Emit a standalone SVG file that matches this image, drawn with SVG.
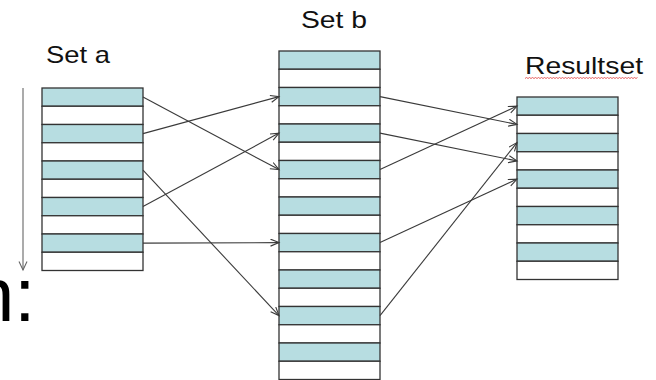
<svg xmlns="http://www.w3.org/2000/svg" width="656" height="380" viewBox="0 0 656 380">
<style>
.lbl{font-family:"Liberation Sans",Arial,sans-serif;font-size:24px;fill:#111}
.t{fill:#b7dde1;stroke:#333;stroke-width:1.3}
.w{fill:#fff;stroke:#333;stroke-width:1.3}
.c{stroke:#3a3a3a;stroke-width:1.1;fill:none;marker-end:url(#ah)}
</style>
<defs>
<marker id="ah" markerUnits="userSpaceOnUse" markerWidth="12" markerHeight="10" refX="9" refY="4" orient="auto">
<path d="M0.5,0.5 L9,4 L0.5,7.5" fill="none" stroke="#3a3a3a" stroke-width="1.1"/>
</marker>
<marker id="ahg" markerUnits="userSpaceOnUse" markerWidth="12" markerHeight="10" refX="9" refY="4.5" orient="auto">
<path d="M0.5,0.5 L9,4.5 L0.5,8.5" fill="none" stroke="#666" stroke-width="1.1"/>
</marker>
</defs>
<rect width="656" height="380" fill="#fff"/>

<g id="label-n">
<text x="-28" y="321" font-family="Liberation Sans,Arial,sans-serif" font-size="76" fill="#000">n:</text>
</g>

<g id="order-arrow">
<line x1="23" y1="88" x2="23" y2="270" stroke="#666" stroke-width="1.1" marker-end="url(#ahg)"/>
</g>

<g id="setA">
<text class="lbl" x="46" y="63" textLength="64" lengthAdjust="spacingAndGlyphs">Set a</text>
<rect class="t" x="42" y="88" width="101" height="18.25"/>
<rect class="w" x="42" y="106.25" width="101" height="18.25"/>
<rect class="t" x="42" y="124.5" width="101" height="18.25"/>
<rect class="w" x="42" y="142.75" width="101" height="18.25"/>
<rect class="t" x="42" y="161" width="101" height="18.25"/>
<rect class="w" x="42" y="179.25" width="101" height="18.25"/>
<rect class="t" x="42" y="197.5" width="101" height="18.25"/>
<rect class="w" x="42" y="215.75" width="101" height="18.25"/>
<rect class="t" x="42" y="234" width="101" height="18.25"/>
<rect class="w" x="42" y="252.25" width="101" height="18.25"/>
</g>

<g id="setB">
<text class="lbl" x="301" y="28" textLength="66" lengthAdjust="spacingAndGlyphs">Set b</text>
<rect class="t" x="279" y="51" width="101" height="18.25"/>
<rect class="w" x="279" y="69.25" width="101" height="18.25"/>
<rect class="t" x="279" y="87.5" width="101" height="18.25"/>
<rect class="w" x="279" y="105.75" width="101" height="18.25"/>
<rect class="t" x="279" y="124" width="101" height="18.25"/>
<rect class="w" x="279" y="142.25" width="101" height="18.25"/>
<rect class="t" x="279" y="160.5" width="101" height="18.25"/>
<rect class="w" x="279" y="178.75" width="101" height="18.25"/>
<rect class="t" x="279" y="197" width="101" height="18.25"/>
<rect class="w" x="279" y="215.25" width="101" height="18.25"/>
<rect class="t" x="279" y="233.5" width="101" height="18.25"/>
<rect class="w" x="279" y="251.75" width="101" height="18.25"/>
<rect class="t" x="279" y="270" width="101" height="18.25"/>
<rect class="w" x="279" y="288.25" width="101" height="18.25"/>
<rect class="t" x="279" y="306.5" width="101" height="18.25"/>
<rect class="w" x="279" y="324.75" width="101" height="18.25"/>
<rect class="t" x="279" y="343" width="101" height="18.25"/>
<rect class="w" x="279" y="361.25" width="101" height="18.25"/>
</g>

<g id="resultset">
<text class="lbl" x="525" y="74" textLength="118" lengthAdjust="spacingAndGlyphs">Resultset</text>
<path d="M525,78.5 l1.5,-1 l1.5,1 l1.5,-1 l1.5,1 l1.5,-1 l1.5,1 l1.5,-1 l1.5,1 l1.5,-1 l1.5,1 l1.5,-1 l1.5,1 l1.5,-1 l1.5,1 l1.5,-1 l1.5,1 l1.5,-1 l1.5,1 l1.5,-1 l1.5,1 l1.5,-1 l1.5,1 l1.5,-1 l1.5,1 l1.5,-1 l1.5,1 l1.5,-1 l1.5,1 l1.5,-1 l1.5,1 l1.5,-1 l1.5,1 l1.5,-1 l1.5,1 l1.5,-1 l1.5,1 l1.5,-1 l1.5,1 l1.5,-1 l1.5,1 l1.5,-1 l1.5,1 l1.5,-1 l1.5,1 l1.5,-1 l1.5,1 l1.5,-1 l1.5,1 l1.5,-1 l1.5,1 l1.5,-1 l1.5,1 l1.5,-1 l1.5,1 l1.5,-1 l1.5,1 l1.5,-1 l1.5,1 l1.5,-1 l1.5,1 l1.5,-1 l1.5,1 l1.5,-1 l1.5,1 l1.5,-1 l1.5,1 l1.5,-1 l1.5,1 l1.5,-1 l1.5,1 l1.5,-1 l1.5,1 l1.5,-1 l1.5,1 l1.5,-1" fill="none" stroke="#e03a3a" stroke-width="0.8"/>
<rect class="t" x="517" y="97" width="101" height="18.25"/>
<rect class="w" x="517" y="115.25" width="101" height="18.25"/>
<rect class="t" x="517" y="133.5" width="101" height="18.25"/>
<rect class="w" x="517" y="151.75" width="101" height="18.25"/>
<rect class="t" x="517" y="170" width="101" height="18.25"/>
<rect class="w" x="517" y="188.25" width="101" height="18.25"/>
<rect class="t" x="517" y="206.5" width="101" height="18.25"/>
<rect class="w" x="517" y="224.75" width="101" height="18.25"/>
<rect class="t" x="517" y="243" width="101" height="18.25"/>
<rect class="w" x="517" y="261.25" width="101" height="18.25"/>
</g>

<g id="connectors">
<line class="c" x1="143" y1="97" x2="279" y2="169.6"/>
<line class="c" x1="143" y1="133.6" x2="279" y2="96.6"/>
<line class="c" x1="143" y1="170.1" x2="279" y2="315.6"/>
<line class="c" x1="143" y1="206.6" x2="279" y2="133.1"/>
<line class="c" x1="143" y1="243.1" x2="279" y2="242.6"/>
<line class="c" x1="380" y1="96.6" x2="517" y2="124.4"/>
<line class="c" x1="380" y1="133.1" x2="517" y2="160.9"/>
<line class="c" x1="380" y1="169.6" x2="517" y2="106.1"/>
<line class="c" x1="380" y1="242.6" x2="517" y2="179.1"/>
<line class="c" x1="380" y1="315.6" x2="517" y2="142.6"/>
</g>
</svg>
